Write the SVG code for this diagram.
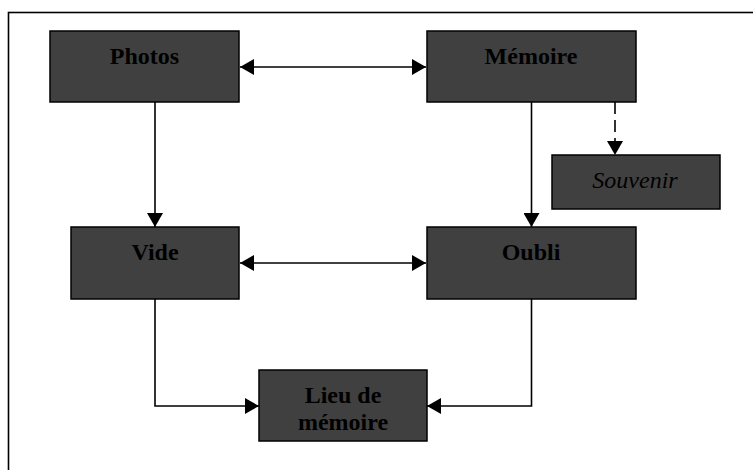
<svg xmlns="http://www.w3.org/2000/svg" width="753" height="470" viewBox="0 0 753 470">
  <style>
    .box { fill: #404040; stroke: #000; stroke-width: 1.5; }
    .lbl { font-family: "Liberation Serif", "Times New Roman", serif; font-size: 24px; font-weight: bold; fill: #000; text-anchor: middle; }
    .it { font-weight: normal; font-style: italic; }
    .wire { fill: none; stroke: #000; stroke-width: 1.6; }
    .dash { stroke-dasharray: 12 6; }
  </style>
  <defs>
    <marker id="head" viewBox="0 0 14 16" refX="14" refY="8" markerWidth="14" markerHeight="16" markerUnits="userSpaceOnUse" orient="auto-start-reverse">
      <path d="M0,0 L14,8 L0,16 Z" fill="#000"/>
    </marker>
  </defs>

  <rect x="8.5" y="12.5" width="760" height="470" fill="#fff" stroke="#000" stroke-width="1.6"/>

  <g id="connectors">
    <line class="wire" x1="240" y1="67" x2="426" y2="67" marker-start="url(#head)" marker-end="url(#head)"/>
    <line class="wire" x1="240" y1="263" x2="426" y2="263" marker-start="url(#head)" marker-end="url(#head)"/>
    <line class="wire" x1="155" y1="102" x2="155" y2="227" marker-end="url(#head)"/>
    <line class="wire" x1="531.5" y1="102" x2="531.5" y2="227" marker-end="url(#head)"/>
    <line class="wire dash" x1="615" y1="102" x2="615" y2="155" marker-end="url(#head)"/>
    <polyline class="wire" points="155,299 155,406 259,406" marker-end="url(#head)"/>
    <polyline class="wire" points="531.5,299 531.5,406 427,406" marker-end="url(#head)"/>
  </g>

  <g id="photos">
    <rect class="box" x="50" y="31" width="189" height="71"/>
    <text class="lbl" x="144.5" y="64">Photos</text>
  </g>
  <g id="memoire">
    <rect class="box" x="427" y="31" width="209" height="71"/>
    <text class="lbl" x="531" y="64">Mémoire</text>
  </g>
  <g id="souvenir">
    <rect class="box" x="552" y="155" width="168" height="54"/>
    <text class="lbl it" x="635" y="188">Souvenir</text>
  </g>
  <g id="vide">
    <rect class="box" x="71" y="227" width="168" height="72"/>
    <text class="lbl" x="155" y="260">Vide</text>
  </g>
  <g id="oubli">
    <rect class="box" x="427" y="227" width="209" height="72"/>
    <text class="lbl" x="531" y="260">Oubli</text>
  </g>
  <g id="lieu-de-memoire">
    <rect class="box" x="259" y="370" width="168" height="71"/>
    <text class="lbl" x="343" y="403">Lieu de</text>
    <text class="lbl" x="343" y="430">mémoire</text>
  </g>
</svg>
